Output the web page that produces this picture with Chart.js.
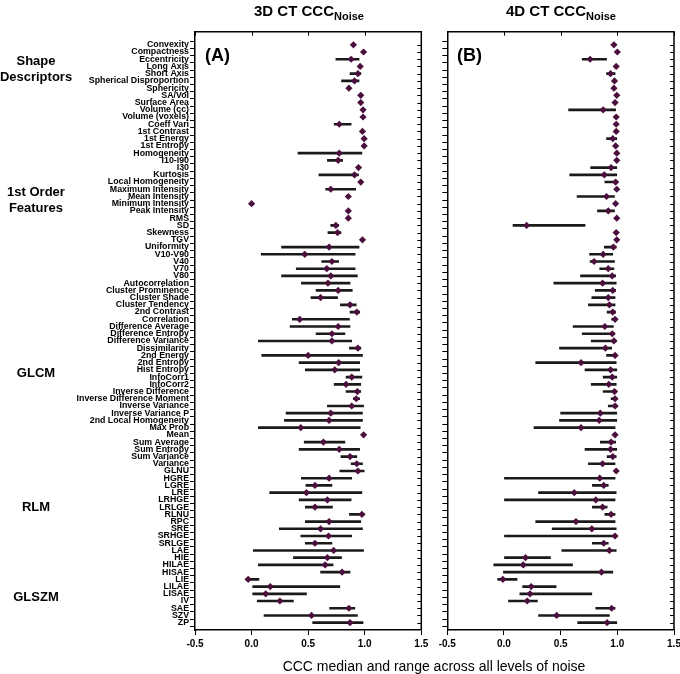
<!DOCTYPE html>
<html>
<head>
<meta charset="utf-8">
<script src="https://cdn.jsdelivr.net/npm/chart.js@4.4.1/dist/chart.umd.min.js"></script>
<style>
  body { margin: 0; background: #fff; font-family: "Liberation Sans", Arial, sans-serif; }
  #wrap { position: relative; width: 680px; height: 674px; overflow: hidden; }
  canvas { position: absolute; top: 0; }
  .t { position: absolute; color: #000; white-space: nowrap; }
  .title { font-weight: bold; font-size: 15px; top: 2px; transform: translateX(-50%); }
  .title sub { font-size: 11px; vertical-align: -4px; }
  .panel { font-weight: bold; font-size: 18px; top: 45px; }
  .grp { font-weight: bold; font-size: 13px; text-align: center; line-height: 16px; transform: translate(-50%, -50%); left: 36px; }
  .xt { font-size: 14px; left: 434px; top: 658px; transform: translateX(-50%); }
</style>
</head>
<body>
<div id="wrap">
  <canvas id="chartA" width="432" height="674" style="left:0"></canvas>
  <canvas id="chartB" width="248" height="674" style="left:432px"></canvas>
  <div class="t title" style="left:309px">3D CT CCC<sub>Noise</sub></div>
  <div class="t title" style="left:561px">4D CT CCC<sub>Noise</sub></div>
  <div class="t panel" style="left:205px">(A)</div>
  <div class="t panel" style="left:457px">(B)</div>
  <div class="t grp" style="top:69px">Shape<br>Descriptors</div>
  <div class="t grp" style="top:200px">1st Order<br>Features</div>
  <div class="t grp" style="top:373px">GLCM</div>
  <div class="t grp" style="top:507px">RLM</div>
  <div class="t grp" style="top:597px">GLSZM</div>
  <div class="t xt">CCC median and range across all levels of noise</div>
</div>
<script>
  // Data

  var features = ["Convexity", "Compactness", "Eccentricity", "Long Axis", "Short Axis",
    "Spherical Disproportion", "Sphericity", "SA/Vol", "Surface Area", "Volume (cc)", "Volume (voxels)",
    "Coeff Vari", "1st Contrast", "1st Energy", "1st Entropy", "Homogeneity", "I10-I90", "I30",
    "Kurtosis", "Local Homogeneity", "Maximum Intensity", "Mean Intensity", "Minimum Intensity",
    "Peak Intensity", "RMS", "SD", "Skewness", "TGV", "Uniformity", "V10-V90", "V40", "V70", "V80",
    "Autocorrelation", "Cluster Prominence", "Cluster Shade", "Cluster Tendency", "2nd Contrast",
    "Correlation", "Difference Average", "Difference Entropy", "Difference Variance", "Dissimilarity",
    "2nd Energy", "2nd Entropy", "Hist Entropy", "InfoCorr1", "InfoCorr2", "Inverse Difference",
    "Inverse Difference Moment", "Inverse Variance", "Inverse Variance P", "2nd Local Homogeneity",
    "Max Prob", "Mean", "Sum Average", "Sum Entropy", "Sum Variance", "Variance",
    "GLNU", "HGRE", "LGRE", "LRE", "LRHGE", "LRLGE", "RLNU", "RPC", "SRE", "SRHGE", "SRLGE",
    "LAE", "HIE", "HILAE", "HISAE", "LIE", "LILAE", "LISAE", "IV", "SAE", "SZV", "ZP"];

  var xTicks = [-0.5, 0.0, 0.5, 1.0, 1.5];

  // 3D CT: median, min, max
  var med3D = [0.90, 0.99, 0.88, 0.96, 0.94, 0.91, 0.86, 0.965, 0.965, 0.985, 0.985,
    0.775, 0.98, 0.995, 0.995, 0.775, 0.765, 0.945, 0.91, 0.965, 0.70, 0.855, 0.0,
    0.855, 0.855, 0.745, 0.76, 0.98, 0.685, 0.47, 0.71, 0.665, 0.70,
    0.675, 0.765, 0.61, 0.87, 0.93, 0.425, 0.765, 0.71, 0.71, 0.94,
    0.50, 0.77, 0.735, 0.885, 0.835, 0.935, 0.925, 0.885, 0.70, 0.685,
    0.435, 0.99, 0.635, 0.775, 0.87, 0.93,
    0.94, 0.685, 0.56, 0.485, 0.67, 0.56, 0.975, 0.685, 0.61, 0.68, 0.56,
    0.725, 0.67, 0.65, 0.80, -0.03, 0.165, 0.125, 0.25, 0.86, 0.53, 0.87];
  var min3D = [0.90, 0.99, 0.745, 0.96, 0.87, 0.795, 0.86, 0.965, 0.965, 0.985, 0.985,
    0.73, 0.98, 0.995, 0.995, 0.41, 0.67, 0.945, 0.595, 0.965, 0.655, 0.855, 0.0,
    0.855, 0.855, 0.70, 0.675, 0.98, 0.265, 0.085, 0.62, 0.395, 0.265,
    0.44, 0.57, 0.525, 0.785, 0.87, 0.36, 0.34, 0.57, 0.06, 0.865,
    0.09, 0.42, 0.475, 0.835, 0.73, 0.835, 0.90, 0.67, 0.305, 0.29,
    0.06, 0.99, 0.465, 0.42, 0.79, 0.88,
    0.78, 0.44, 0.48, 0.16, 0.42, 0.475, 0.865, 0.475, 0.245, 0.435, 0.475,
    0.015, 0.37, 0.06, 0.61, -0.05, 0.01, 0.01, 0.05, 0.69, 0.11, 0.54];
  var max3D = [0.90, 0.99, 0.95, 0.96, 0.965, 0.95, 0.86, 0.965, 0.965, 0.985, 0.985,
    0.88, 0.98, 0.995, 0.995, 0.975, 0.805, 0.945, 0.945, 0.965, 0.92, 0.855, 0.0,
    0.855, 0.855, 0.77, 0.79, 0.98, 0.95, 0.915, 0.77, 0.915, 0.935,
    0.87, 0.89, 0.76, 0.925, 0.955, 0.865, 0.87, 0.825, 0.885, 0.965,
    0.98, 0.955, 0.955, 0.975, 0.965, 0.965, 0.955, 0.99, 0.98, 0.98,
    0.96, 0.99, 0.825, 0.955, 0.93, 0.98,
    0.995, 0.885, 0.71, 0.975, 0.88, 0.715, 0.995, 0.965, 0.98, 0.885, 0.71,
    0.99, 0.795, 0.72, 0.87, 0.065, 0.78, 0.485, 0.37, 0.913, 0.935, 0.985];

  // 4D CT: median, min, max
  var med4D = [0.97, 1.0, 0.76, 0.99, 0.94, 0.975, 0.97, 0.995, 0.98, 0.875, 0.99,
    0.99, 0.99, 0.96, 0.985, 0.995, 0.995, 0.945, 0.885, 0.985, 0.995, 0.905, 0.985,
    0.92, 0.995, 0.20, 0.99, 0.995, 0.965, 0.875, 0.795, 0.92, 0.955,
    0.87, 0.96, 0.92, 0.93, 0.96, 0.98, 0.89, 0.955, 0.97, 0.895,
    0.98, 0.68, 0.94, 0.955, 0.925, 0.975, 0.98, 0.98, 0.85, 0.84,
    0.68, 0.98, 0.945, 0.94, 0.96, 0.87,
    0.99, 0.845, 0.88, 0.62, 0.81, 0.87, 0.945, 0.635, 0.775, 0.98, 0.88,
    0.93, 0.19, 0.17, 0.86, -0.01, 0.24, 0.23, 0.205, 0.95, 0.465, 0.91];
  var min4D = [0.97, 1.0, 0.69, 0.99, 0.905, 0.975, 0.97, 0.995, 0.98, 0.57, 0.99,
    0.99, 0.99, 0.905, 0.985, 0.995, 0.995, 0.765, 0.58, 0.89, 0.995, 0.645, 0.985,
    0.825, 0.995, 0.08, 0.99, 0.995, 0.885, 0.755, 0.76, 0.845, 0.675,
    0.44, 0.805, 0.775, 0.745, 0.91, 0.95, 0.61, 0.69, 0.77, 0.49,
    0.905, 0.28, 0.715, 0.875, 0.77, 0.875, 0.945, 0.92, 0.50, 0.49,
    0.265, 0.98, 0.85, 0.715, 0.91, 0.745,
    0.99, 0.0, 0.78, 0.305, 0.0, 0.78, 0.89, 0.28, 0.425, 0.0, 0.78,
    0.51, 0.0, -0.09, -0.005, -0.055, 0.165, 0.14, 0.04, 0.81, 0.305, 0.65];
  var max4D = [0.97, 1.0, 0.905, 0.99, 0.98, 0.975, 0.97, 0.995, 0.98, 0.985, 0.99,
    0.99, 0.99, 0.995, 0.985, 0.995, 0.995, 0.995, 0.995, 0.995, 0.995, 0.975, 0.985,
    0.975, 0.995, 0.715, 0.99, 0.995, 0.99, 0.96, 0.975, 0.97, 0.985,
    0.99, 0.985, 0.98, 0.98, 0.985, 0.995, 0.965, 0.975, 0.99, 0.95,
    0.995, 0.99, 0.995, 0.995, 0.99, 0.995, 0.995, 1.0, 0.995, 0.995,
    0.98, 0.98, 0.985, 0.995, 0.99, 0.98,
    0.99, 0.98, 0.92, 0.99, 0.98, 0.91, 0.98, 0.98, 0.99, 0.99, 0.92,
    0.99, 0.41, 0.605, 0.96, 0.115, 0.46, 0.775, 0.295, 0.98, 0.93, 0.995];

  // Frame: top/right border with inner ticks

  var framePlugin = {
    id: 'frame',
    afterDraw: function(chart) {
      var ctx = chart.ctx, a = chart.chartArea;
      var xs = chart.scales.x, ys = chart.scales.y;
      ctx.save();
      ctx.strokeStyle = '#000';
      ctx.lineWidth = 1.5;
      ctx.beginPath();
      ctx.moveTo(a.left, a.top);
      ctx.lineTo(a.right, a.top);
      ctx.lineTo(a.right, a.bottom);
      ctx.stroke();
      ctx.lineWidth = 1;
      ctx.beginPath();
      xTicks.forEach(function(v) {
        var px = Math.round(xs.getPixelForValue(v)) + 0.5;
        ctx.moveTo(px, a.top);
        ctx.lineTo(px, a.top + 4);
      });
      features.forEach(function(f, i) {
        var py = Math.round(ys.getPixelForValue(i)) + 0.5;
        ctx.moveTo(a.right - 4, py);
        ctx.lineTo(a.right, py);
      });
      ctx.stroke();
      ctx.restore();
    }
  };

  function makePanel(id, med, lo, hi, showLabels, yWidth, padRight) {
    var ranges = features.map(function(f, i) { return { x: [lo[i], hi[i]], y: i }; });
    var points = features.map(function(f, i) { return { x: med[i], y: i }; });
    return new Chart(document.getElementById(id).getContext('2d'), {
      type: 'bar',
      data: {
        datasets: [
          {
            type: 'scatter',
            data: points,
            pointStyle: 'rectRot',
            pointRadius: 3.6,
            backgroundColor: '#4b0f3d',
            borderColor: '#4b0f3d',
            borderWidth: 0,
            order: 1
          },
          {
            data: ranges,
            backgroundColor: '#1a1a1a',
            barThickness: 2,
            order: 2
          }
        ]
      },
      options: {
        indexAxis: 'y',
        responsive: false,
        animation: false,
        layout: { padding: { left: 0, right: padRight, top: 31.7, bottom: 0 } },
        plugins: { legend: { display: false }, tooltip: { enabled: false } },
        scales: {
          x: {
            type: 'linear',
            min: -0.5,
            max: 1.5,
            afterBuildTicks: function(s) { s.ticks = xTicks.map(function(v) { return { value: v }; }); },
            afterFit: function(s) { s.height = 44; s.paddingLeft = 0; s.paddingRight = 0; },
            ticks: {
              color: '#000',
              font: { family: 'Liberation Sans', size: 10, weight: 'bold' },
              padding: 3,
              maxRotation: 0,
              callback: function(v) { return Number(v).toFixed(1); }
            },
            grid: { drawOnChartArea: false, tickLength: 5, color: '#000' },
            border: { color: '#000', width: 1.5 }
          },
          y: {
            type: 'linear',
            reverse: true,
            min: -1.3,
            max: 80.5,
            afterBuildTicks: function(s) { s.ticks = features.map(function(f, i) { return { value: i }; }); },
            afterFit: function(s) { s.width = yWidth; },
            ticks: {
              autoSkip: false,
              color: '#000',
              padding: 1,
              font: { family: 'Liberation Sans', size: 8.8, weight: 'bold' },
              callback: function(v) { return showLabels ? features[v] : ''; }
            },
            grid: { drawOnChartArea: false, tickLength: 5, color: '#000' },
            border: { color: '#000', width: 1.5 }
          }
        }
      },
      plugins: [framePlugin]
    });
  }

  // Generate Charts

  var chartA = makePanel('chartA', med3D, min3D, max3D, true, 195, 10.7);
  var chartB = makePanel('chartB', med4D, min4D, max4D, false, 15.3, 6);
</script>
</body>
</html>
